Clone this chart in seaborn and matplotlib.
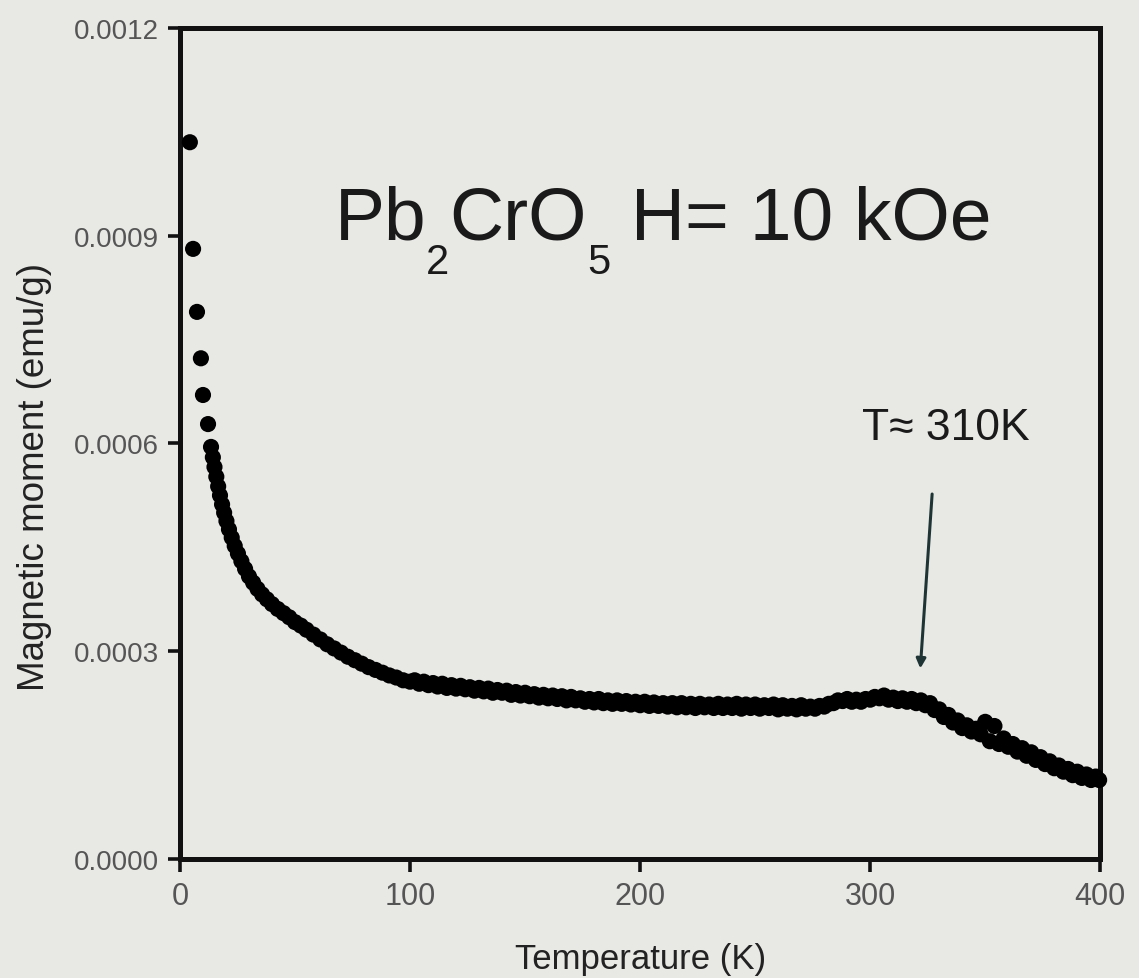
import numpy as np
import matplotlib
matplotlib.use("Agg")
import matplotlib.pyplot as plt
import seaborn as sns

# Pb2CrO5, H = 10 kOe : magnetic moment vs temperature
temperature_k = [
    4.3, 5.7, 7.4, 9.1, 10.0, 12.2, 13.5, 14.3, 15.0, 15.8, 16.6, 17.4, 18.3, 19.2,
    20.2, 21.3, 22.5, 23.8, 25.2, 26.7, 28.3, 30.0, 31.8, 33.7, 35.7, 37.8, 40.0,
    42.5, 45.0, 47.5, 50.0, 52.5, 55.0, 58.0, 61.0, 64.0, 67.0, 70.0, 73.0, 76.0,
    79.0, 82.0, 85.0, 88.0, 91.0, 94.0, 97.0, 100.0,
    102, 104, 106, 108, 110, 112, 114, 116, 118, 120, 122, 124, 126, 128, 130, 132,
    134, 136, 138, 140, 142, 144, 146, 148, 150, 152, 154, 156, 158, 160, 162, 164,
    166, 168, 170, 172, 174, 176, 178, 180, 182, 184, 186, 188, 190, 192, 194, 196,
    198, 200, 202, 204, 206, 208, 210, 212, 214, 216, 218, 220, 222, 224, 226, 228,
    230, 232, 234, 236, 238, 240, 242, 244, 246, 248, 250, 252, 254, 256, 258, 260,
    262, 264, 266, 268, 270, 272, 274, 276, 278, 280, 282, 284, 286, 288, 290, 292,
    294, 296, 298, 300, 302, 304, 306, 308, 310, 312, 314, 316, 318, 320, 322, 324,
    326, 328, 330, 332, 334, 336, 338, 340, 342, 344, 346, 348, 350, 352, 354, 356,
    358, 360, 362, 364, 366, 368, 370, 372, 374, 376, 378, 380, 382, 384, 386, 388,
    390, 392, 394, 396, 398, 399.5,
]
# magnetic moment in units of 1e-4 emu/g
moment_1e4 = [
    10.35, 8.81, 7.90, 7.23, 6.70, 6.28, 5.95, 5.80, 5.66, 5.52, 5.38, 5.25, 5.12, 5.00,
    4.88, 4.76, 4.64, 4.52, 4.41, 4.30, 4.19, 4.08, 3.99, 3.90, 3.82, 3.75, 3.68,
    3.61, 3.55, 3.49, 3.42, 3.37, 3.31, 3.24, 3.17, 3.10, 3.04, 2.98, 2.92, 2.87,
    2.82, 2.77, 2.73, 2.69, 2.65, 2.62, 2.58, 2.56,
    2.58, 2.53, 2.56, 2.51, 2.54, 2.49, 2.53, 2.47, 2.51, 2.46, 2.50, 2.45, 2.48, 2.43, 2.47, 2.42,
    2.46, 2.40, 2.44, 2.40, 2.43, 2.37, 2.41, 2.36, 2.40, 2.35, 2.38, 2.33, 2.37, 2.32, 2.36, 2.31,
    2.35, 2.29, 2.34, 2.29, 2.32, 2.27, 2.31, 2.26, 2.31, 2.25, 2.29, 2.24, 2.29, 2.24, 2.28, 2.23,
    2.27, 2.22, 2.27, 2.21, 2.26, 2.21, 2.25, 2.20, 2.25, 2.19, 2.25, 2.19, 2.24, 2.18, 2.24, 2.19,
    2.23, 2.18, 2.24, 2.18, 2.23, 2.18, 2.24, 2.17, 2.23, 2.18, 2.23, 2.17, 2.22, 2.18, 2.23, 2.16,
    2.22, 2.17, 2.21, 2.16, 2.22, 2.17, 2.20, 2.17, 2.21, 2.20, 2.24, 2.25, 2.29, 2.28, 2.31, 2.27,
    2.30, 2.27, 2.31, 2.30, 2.34, 2.32, 2.36, 2.30, 2.33, 2.28, 2.32, 2.27, 2.31, 2.25, 2.29, 2.22,
    2.25, 2.15, 2.16, 2.05, 2.08, 1.97, 2.00, 1.89, 1.93, 1.84, 1.88, 1.80, 1.98, 1.70, 1.92, 1.66,
    1.74, 1.62, 1.66, 1.55, 1.60, 1.49, 1.54, 1.43, 1.47, 1.37, 1.41, 1.31, 1.35, 1.26, 1.30, 1.21,
    1.26, 1.17, 1.22, 1.14, 1.19, 1.14,
]
x_ticks = [0, 100, 200, 300, 400]
y_ticks = [0.0, 0.0003, 0.0006, 0.0009, 0.0012]

moment = np.array(moment_1e4) * 1e-4

bg = "#e8e9e5"
sns.set_style("ticks")
plt.rcParams["font.family"] = ["Liberation Sans", "DejaVu Sans"]

fig = plt.figure(figsize=(11.39, 9.79), dpi=100, facecolor=bg)
ax = fig.add_axes([0.158, 0.1216, 0.808, 0.8488], facecolor=bg)

sns.scatterplot(x=temperature_k, y=moment, ax=ax, s=135, color="black",
                edgecolor="none", linewidth=0, legend=False, zorder=3, clip_on=False)

ax.set_xlim(0, 400)
ax.set_ylim(0, 0.0012)
ax.set_xticks(x_ticks)
ax.set_yticks(y_ticks)
ax.set_yticklabels([f"{v:.4f}" for v in y_ticks])

for side in ["left", "right", "top", "bottom"]:
    ax.spines[side].set_linewidth(3.6)
    ax.spines[side].set_color("#111111")
ax.tick_params(axis="both", direction="out", length=9, width=2.6, color="#111111",
               labelcolor="#555555")
ax.tick_params(axis="y", labelsize=20, pad=6)
ax.tick_params(axis="x", labelsize=22, pad=7)

ax.set_xlabel("Temperature (K)", fontsize=25, color="#222222", labelpad=22)
ax.set_ylabel("Magnetic moment (emu/g)", fontsize=26.5, color="#222222")
ax.yaxis.set_label_coords(-0.139, 0.461)

# formula title built from pieces so the subscripts sit low like the original
t1 = ax.text(0.168, 0.729, "Pb", transform=ax.transAxes, fontsize=54,
             color="#1a1a1a", ha="left", va="bottom")
s1 = ax.annotate("2", xy=(1, 0), xycoords=t1, xytext=(0, -21), textcoords="offset points",
                 fontsize=30, color="#1a1a1a", ha="left", va="bottom")
t2 = ax.annotate("CrO", xy=(1, 0), xycoords=(s1, t1), xytext=(0, 0), textcoords="offset points",
                 fontsize=54, color="#1a1a1a", ha="left", va="bottom")
s2 = ax.annotate("5", xy=(1, 0), xycoords=t2, xytext=(0, -21), textcoords="offset points",
                 fontsize=30, color="#1a1a1a", ha="left", va="bottom")
ax.annotate(" H= 10 kOe", xy=(1, 0), xycoords=(s2, t1), xytext=(0, 0), textcoords="offset points",
            fontsize=54, color="#1a1a1a", ha="left", va="bottom")

ax.annotate("", xy=(321.7, 0.000271), xytext=(327, 0.000531),
            arrowprops=dict(arrowstyle="-|>", color="#1f3535", lw=2.2, mutation_scale=14))
ax.text(333, 0.000606, "T≈ 310K", fontsize=32, color="#1a1a1a",
        ha="center", va="baseline")

fig.savefig("out.png", dpi=100, facecolor=bg)
